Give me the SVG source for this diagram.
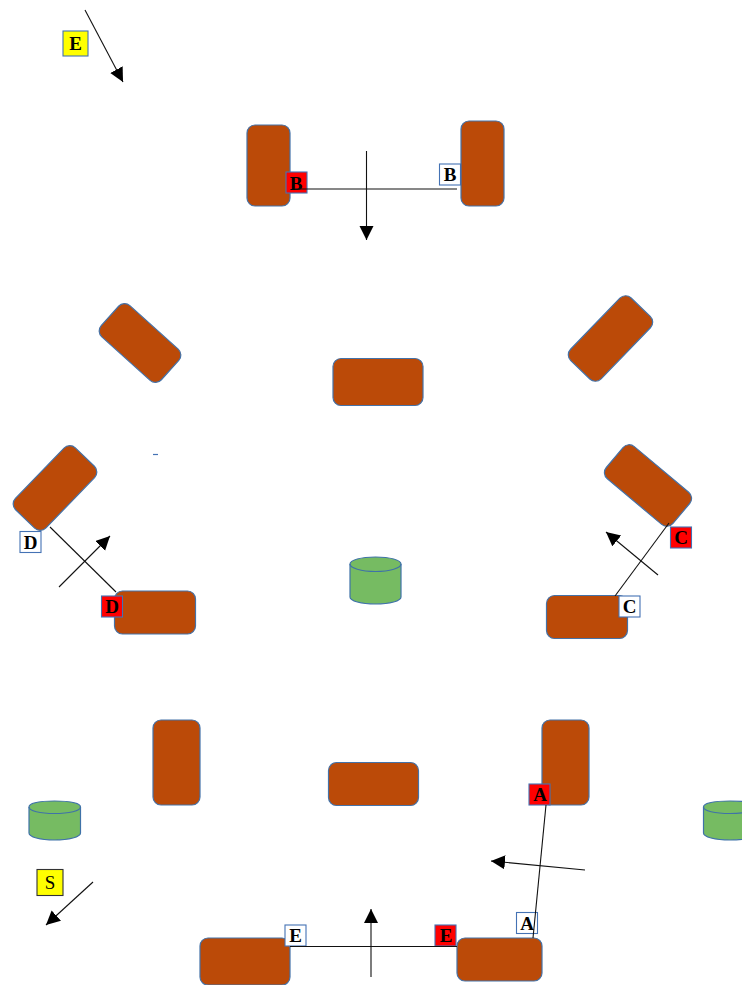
<svg xmlns="http://www.w3.org/2000/svg" width="742" height="985" viewBox="0 0 742 985">
<style>
.n{fill:#bb4a08;stroke:#4472a8;stroke-width:1.2}
.c{fill:#76bb62;stroke:#3f72a8;stroke-width:1.2}
.l{fill:#fff;stroke:#4472b4;stroke-width:1.1}
.r{fill:#ff0000;stroke:#4472b4;stroke-width:1.1}
.y{fill:#ffff00;stroke:#333;stroke-width:1.1}
text{font-family:"Liberation Serif","Times New Roman",serif;font-weight:bold;font-size:19px;text-anchor:middle;fill:#000}
.w{stroke:#111;stroke-width:1.1;fill:none}
.a{stroke:#111;stroke-width:1.1;fill:none;marker-end:url(#ah)}
</style>
<defs>
<marker id="ah" markerUnits="userSpaceOnUse" markerWidth="15" markerHeight="15" refX="14" refY="7" orient="auto"><path d="M0 0L14 7L0 14Z" fill="#000"/></marker>
</defs>
<g id="nodes">
<g id="n1"><rect class="n" x="247" y="125" width="43" height="81" rx="8"/></g>
<g id="n2"><rect class="n" x="461" y="121" width="43" height="85" rx="8"/></g>
<g id="n3"><rect class="n" x="99.500" y="322" width="81" height="42" rx="8" transform="rotate(42 140 343)"/></g>
<g id="n4"><rect class="n" x="567" y="317.250" width="87" height="42.500" rx="8" transform="rotate(-46 610.500 338.500)"/></g>
<g id="n5"><rect class="n" x="333" y="358.500" width="90" height="47" rx="8"/></g>
<g id="n6"><rect class="n" x="12" y="466.750" width="86" height="42.500" rx="8" transform="rotate(-46 55 488)"/></g>
<g id="n7"><rect class="n" x="604.500" y="464.500" width="87" height="42" rx="8" transform="rotate(40 648 485.500)"/></g>
<g id="n8"><rect class="n" x="114.500" y="591" width="81" height="43" rx="8"/></g>
<g id="n9"><rect class="n" x="546.500" y="595.500" width="81" height="43" rx="8"/></g>
<g id="n10"><rect class="n" x="153" y="720" width="47" height="85" rx="8"/></g>
<g id="n11"><rect class="n" x="328.500" y="762.500" width="90" height="43" rx="8"/></g>
<g id="n12"><rect class="n" x="542" y="720" width="47" height="85" rx="8"/></g>
<g id="n13"><rect class="n" x="200" y="938" width="90" height="47" rx="8"/></g>
<g id="n14"><rect class="n" x="457" y="938" width="85" height="43" rx="8"/></g>
<g id="db1"><path class="c" d="M350 564V597C350 601 361 604 375.500 604S401 601 401 597V564C401 560 390 557 375.500 557S350 560 350 564Z"/><path class="c" style="fill:none" d="M350 564C350 568 361 571.500 375.500 571.500S401 568 401 564"/></g>
<g id="db2"><path class="c" d="M29 807V833C29 837 40 840 54.500 840S80.500 837 80.500 833V807C80.500 803 69 801 54.500 801S29 803 29 807Z"/><path class="c" style="fill:none" d="M29 807C29 811 40 813.500 54.500 813.500S80.500 811 80.500 807"/></g>
<g id="db3"><path class="c" d="M703.500 807V833C703.500 837 715 840 730 840S756 837 756 833V807C756 803 745 801 730 801S703.500 803 703.500 807Z"/><path class="c" style="fill:none" d="M703.500 807C703.500 811 715 813.500 730 813.500S756 811 756 807"/></g>
</g>
<g id="labels">
<g id="lE1"><rect class="y" x="63" y="31" width="25" height="25" style="stroke:#4472b4"/><text x="75.500" y="50">E</text></g>
<g id="lB1"><rect class="r" x="286" y="172" width="21" height="21"/><text x="296" y="190">B</text></g>
<g id="lB2"><rect class="l" x="439.500" y="164" width="21" height="21"/><text x="450" y="181">B</text></g>
<g id="lD1"><rect class="l" x="20" y="531.500" width="21" height="21"/><text x="30.500" y="549">D</text></g>
<g id="lD2"><rect class="r" x="101.500" y="596" width="21" height="21"/><text x="112" y="613">D</text></g>
<g id="lC1"><rect class="r" x="670.500" y="527" width="21" height="21"/><text x="681" y="544">C</text></g>
<g id="lC2"><rect class="l" x="619" y="596" width="21" height="21"/><text x="629.500" y="613">C</text></g>
<g id="lA1"><rect class="r" x="529" y="784" width="21" height="21"/><text x="540" y="801">A</text></g>
<g id="lA2"><rect class="l" x="516.500" y="912.500" width="21" height="21"/><text x="527" y="930">A</text></g>
<g id="lE2"><rect class="l" x="285" y="925" width="21" height="21"/><text x="295.500" y="942">E</text></g>
<g id="lE3"><rect class="r" x="435" y="925" width="21" height="21"/><text x="446" y="942">E</text></g>
<g id="lS"><rect class="y" x="37" y="869.500" width="26" height="26"/><text x="50" y="889" style="font-weight:normal">S</text></g>
</g>
<g id="connectors">
<path class="a" d="M85 10L123 82"/>
<path class="w" d="M295 189H457"/>
<path class="a" d="M366.500 151V240"/>
<path class="w" d="M50 527L116 592"/>
<path class="a" d="M59 587L110 536"/>
<path class="w" d="M669 523L615 596"/>
<path class="a" d="M658 575L606 532"/>
<path class="w" d="M546 805L533 938"/>
<path class="a" d="M585 870L491 861"/>
<path class="w" d="M290 946.500H457"/>
<path class="a" d="M371 977V909"/>
<path class="a" d="M93 882L46 925"/>
<path d="M153 454.500H158" stroke="#4472b4" stroke-width="1.2"/>
</g>
</svg>
